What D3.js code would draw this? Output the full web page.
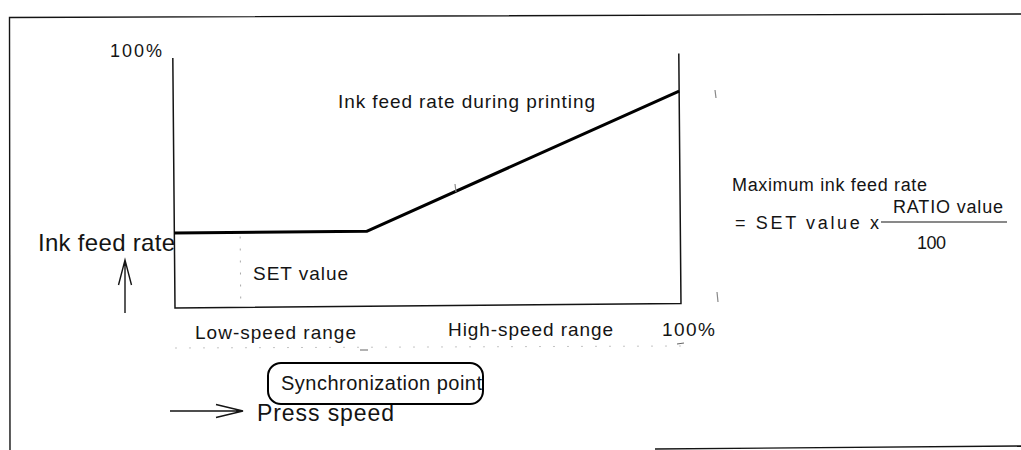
<!DOCTYPE html>
<html>
<head>
<meta charset="utf-8">
<script src="https://cdn.jsdelivr.net/npm/d3@7"></script>
<style>
  html, body { margin: 0; padding: 0; background: #fff; }
  svg { display: block; }
  text { font-family: "Liberation Sans", Arial, Helvetica, sans-serif; fill: #141414; }
</style>
</head>
<body>
<svg id="chart" width="1021" height="450"></svg>
<script>
// Press speed (% of maximum) at the break points of the ink feed curve
const pressSpeed = [0, 38, 100];
// Ink feed rate (%) at those speeds: flat at the SET value, then rising to the RATIO maximum
const inkFeedRate = [30, 30, 85];
// Axis tick labels
const yTickLabels = ["100%"];
const xTickLabels = ["100%"];
// Range captions under the speed axis
const rangeLabels = ["Low-speed range", "High-speed range"];

const svg = d3.select("#chart");
const ink = "#141414";

const x = d3.scaleLinear().domain([0, 100]).range([175, 681]);
const y = d3.scaleLinear().domain([0, 100]).range([308, 58]);

function label(sel, str, px, py, size, len, anchor) {
  const t = sel.append("text")
    .attr("x", px).attr("y", py)
    .attr("font-size", size)
    .attr("text-anchor", anchor || "start")
    .text(str);
  if (len) t.attr("textLength", len).attr("lengthAdjust", "spacing");
  return t;
}

// Page frame
svg.append("path")
  .attr("d", "M10,450 L9.5,17.5 L1021,14")
  .attr("fill", "none").attr("stroke", ink).attr("stroke-width", 1.4);
svg.append("line")
  .attr("x1", 655).attr("y1", 449).attr("x2", 1021).attr("y2", 446)
  .attr("stroke", ink).attr("stroke-width", 1.4);

// Plot body (slightly skewed as on the printed sheet)
const plot = svg.append("g").attr("transform", `rotate(-0.5, ${x(0)}, ${y(0)})`);

// Frame of the plot: both rate axes and the speed axis
plot.append("path")
  .attr("d", `M${x(0)},${y(100)} L${x(0)},${y(0)} L${x(100)},${y(0)} L${x(100)},${y(100)}`)
  .attr("fill", "none").attr("stroke", ink).attr("stroke-width", 1.5);

// Faint dimension line for the SET value
plot.append("line")
  .attr("x1", x(13)).attr("x2", x(13))
  .attr("y1", y(inkFeedRate[0]) + 4).attr("y2", y(0))
  .attr("stroke", "#aaa").attr("stroke-width", 1).attr("stroke-dasharray", "2,10");

// Ink feed rate curve
const pts = pressSpeed.map((s, i) => [x(s), y(inkFeedRate[i])]);
plot.append("path")
  .attr("d", d3.line()(pts))
  .attr("fill", "none").attr("stroke", "#000").attr("stroke-width", 3)
  .attr("stroke-linejoin", "round");

// Faint speed-range dimension line and end marks
svg.append("line")
  .attr("x1", x(0)).attr("x2", x(100)).attr("y1", 348).attr("y2", 346)
  .attr("stroke", "#c4c4c4").attr("stroke-width", 1).attr("stroke-dasharray", "2,12");
svg.append("path").attr("d", "M360,350 L368,350 M677,344 L684,343")
  .attr("stroke", "#666").attr("stroke-width", 1.2);
svg.append("path").attr("d", "M715,90 L716,98 M717,292 L718,302 M455,184 L456,192")
  .attr("stroke", "#888").attr("stroke-width", 1.2);

// Tick labels
label(svg, yTickLabels[0], x(0) - 13, y(100) - 1, 18, 52, "end");
label(svg, xTickLabels[0], x(100) - 19, 336, 19, 53);

// Curve caption and labels inside the plot
label(svg, "Ink feed rate during printing", 338, 108, 19, 257);
label(svg, "SET value", 253, 280, 19, 95);

// Range captions
label(svg, rangeLabels[0], 195, 339, 19, 161);
label(svg, rangeLabels[1], 448, 336, 19, 165);

// Axis titles with arrows
label(svg, "Ink feed rate", 38, 251, 24, 137);
svg.append("path")
  .attr("d", "M125,313 L125,261 M118.5,285 L125,260 L131.5,285")
  .attr("fill", "none").attr("stroke", ink).attr("stroke-width", 1.4);

label(svg, "Press speed", 257, 421, 23, 137);
svg.append("path")
  .attr("d", "M170,411 L243,411 M216,404.5 L243,411 L216,417.5")
  .attr("fill", "none").attr("stroke", ink).attr("stroke-width", 1.4);

// Synchronization point callout
svg.append("rect")
  .attr("x", 268).attr("y", 363).attr("width", 215).attr("height", 41)
  .attr("rx", 13).attr("ry", 13)
  .attr("fill", "none").attr("stroke", "#000").attr("stroke-width", 2);
label(svg, "Synchronization point", 281, 390, 20, 201);

// Formula for the maximum ink feed rate
label(svg, "Maximum ink feed rate", 732, 191, 18, 195);
label(svg, "= SET value x", 735, 229, 18, 144);
label(svg, "RATIO value", 893, 213, 18, 110);
svg.append("line")
  .attr("x1", 881).attr("x2", 1007).attr("y1", 222).attr("y2", 222)
  .attr("stroke", ink).attr("stroke-width", 1.2);
label(svg, "100", 917, 249, 18, 29);
</script>
</body>
</html>
